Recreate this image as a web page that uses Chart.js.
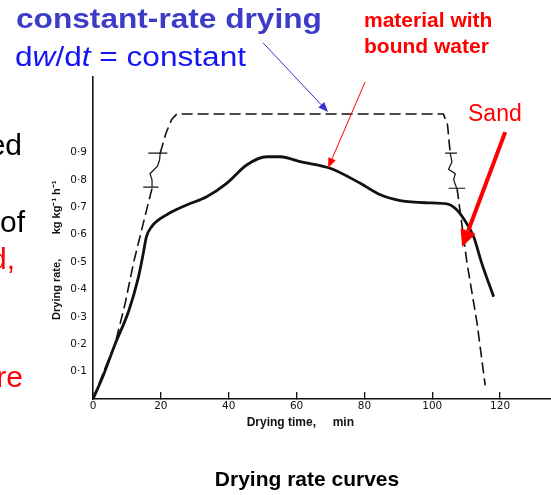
<!DOCTYPE html>
<html><head><meta charset="utf-8">
<script src="https://cdn.jsdelivr.net/npm/chart.js@4.4.1/dist/chart.umd.min.js"></script>
<style>
html,body{margin:0;padding:0;background:#fff;}
#wrap{position:relative;width:551px;height:495px;overflow:hidden;background:#fff;}
#c{position:absolute;left:0;top:0;}
.t{position:absolute;white-space:nowrap;font-family:"Liberation Sans",Arial,sans-serif;line-height:1;transform-origin:0 0;}
</style></head><body>
<div id="wrap">
<canvas id="c" width="551" height="495"></canvas>
<div class="t" style="left:16px;top:5px;font-size:28px;font-weight:bold;color:#3c3cc8;transform:scaleX(1.13);">constant-rate drying</div>
<div class="t" style="left:15px;top:44px;font-size:27px;color:#1414f5;transform:scaleX(1.17);">d<i>w</i>/d<i>t</i> = constant</div>
<div class="t" style="left:364px;top:9px;font-size:21px;font-weight:bold;color:#ff0000;">material with</div>
<div class="t" style="left:364px;top:35px;font-size:21px;font-weight:bold;color:#ff0000;">bound water</div>
<div class="t" style="left:468px;top:102px;font-size:23px;color:#ff0000;">Sand</div>
<div class="t" style="right:529px;top:130px;font-size:30px;color:#000;">ed</div>
<div class="t" style="right:526px;top:207px;font-size:30px;color:#000;">of</div>
<div class="t" style="right:536px;top:244px;font-size:30px;color:#ff0000;">d,</div>
<div class="t" style="right:528px;top:362px;font-size:30px;color:#ff0000;">re</div>
<div class="t" style="left:307px;top:468px;font-size:21px;font-weight:bold;color:#000;transform:translateX(-50%);">Drying rate curves</div>
</div>
<script>
// ---- data ----
const xTicks = [0, 20, 40, 60, 80, 100, 120];
const yTicks = [0.1, 0.2, 0.3, 0.4, 0.5, 0.6, 0.7, 0.8, 0.9];
const yTickLabels = ['0·1','0·2','0·3','0·4','0·5','0·6','0·7','0·8','0·9'];

// material with bound water (solid curve)
const boundX = [0, 3, 6.5, 10.5, 13.3, 14.8, 15.7, 17.3, 21.7, 27.6, 33.5, 39.4, 45.3, 51.2, 55.2, 61.1, 69.9, 78.8, 84.7, 90.6, 98.4, 104.3, 107.3, 109.2, 112.2, 114.6, 118.1];
const boundY = [0, 0.085, 0.2, 0.32, 0.44, 0.53, 0.59, 0.629, 0.672, 0.708, 0.738, 0.787, 0.854, 0.884, 0.884, 0.866, 0.842, 0.787, 0.745, 0.724, 0.716, 0.712, 0.690, 0.659, 0.592, 0.495, 0.373];

// constant-rate drying / sand (dashed curve), with breaks
const sandX = [0, 3.5, 6.5, 9.5, 12, 16, 17.5, 18.5, 19.8, 21.5, 23.2, 24.7, 103.3, 104.5, 105.3, 106, 107.3, 110.2, 113.2, 115.6];
const sandY = [0, 0.11, 0.2, 0.35, 0.5, 0.7, 0.773, null, 0.897, 0.97, 1.02, 1.04, 1.04, 1.0, 0.897, null, 0.769, 0.5, 0.277, 0.05];

// axis-break marks
const breakLeftX = [14.8, 19.3, null, 17.5, 17.4, 16.8, 19.0, 19.6, 19.8, null, 16.3, 21.9];
const breakLeftY = [0.773, 0.773, null, 0.773, 0.80, 0.822, 0.85, 0.87, 0.897, null, 0.897, 0.897];
const breakRightX = [103.8, 107.3, null, 105.3, 105.8, 104.8, 106.8, 106.3, 107.2, null, 104.8, 109.7];
const breakRightY = [0.897, 0.897, null, 0.897, 0.865, 0.838, 0.822, 0.80, 0.769, null, 0.769, 0.769];

// annotation arrows (tail / tip, in data units)
const arrowFrom = [[50.1, 1.30], [80.2, 1.157], [121.5, 0.974]];
const arrowTo   = [[69.3, 1.047], [69.3, 0.843], [108.8, 0.555]];

const toPts = (xs, ys) => xs.map((x, i) => ({x: x === null ? 0 : x, y: ys[i]}));

const arrowStyles = [
  {color:'#3434cc', width:1, head:10, half:4},
  {color:'#ff0000', width:1, head:10, half:4},
  {color:'#ff0000', width:4, head:17, half:8}
];

const arrowPlugin = {
  id: 'arrows',
  afterDatasetsDraw(chart) {
    const {ctx, scales: {x, y}} = chart;
    ctx.save();
    arrowFrom.forEach((f, i) => {
      const s = arrowStyles[i];
      const x1 = x.getPixelForValue(f[0]), y1 = y.getPixelForValue(f[1]);
      const x2 = x.getPixelForValue(arrowTo[i][0]), y2 = y.getPixelForValue(arrowTo[i][1]);
      const ang = Math.atan2(y2 - y1, x2 - x1);
      const bx = x2 - s.head * Math.cos(ang), by = y2 - s.head * Math.sin(ang);
      ctx.strokeStyle = s.color; ctx.fillStyle = s.color; ctx.lineWidth = s.width;
      ctx.beginPath(); ctx.moveTo(x1, y1); ctx.lineTo(bx, by); ctx.stroke();
      ctx.beginPath();
      ctx.moveTo(x2, y2);
      ctx.lineTo(bx + s.half * Math.sin(ang), by - s.half * Math.cos(ang));
      ctx.lineTo(bx - s.half * Math.sin(ang), by + s.half * Math.cos(ang));
      ctx.closePath(); ctx.fill();
    });
    ctx.restore();
  }
};

const NB = '\u00A0';
new Chart(document.getElementById('c'), {
  type: 'line',
  data: {
    datasets: [
      {data: toPts(boundX, boundY), borderColor:'#111', borderWidth:2.8, pointRadius:0, cubicInterpolationMode:'monotone', spanGaps:false},
      {data: toPts(sandX, sandY), borderColor:'#111', borderWidth:1.6, borderDash:[11,5], pointRadius:0, tension:0, spanGaps:false},
      {data: toPts(breakLeftX, breakLeftY), borderColor:'#111', borderWidth:1.2, pointRadius:0, tension:0, spanGaps:false},
      {data: toPts(breakRightX, breakRightY), borderColor:'#111', borderWidth:1.2, pointRadius:0, tension:0, spanGaps:false}
    ]
  },
  options: {
    responsive: false,
    animation: false,
    layout: {padding: {top: 77, left: 0, right: 0, bottom: 0}},
    plugins: {legend: {display: false}, tooltip: {enabled: false}},
    scales: {
      x: {
        type: 'linear', min: 0, max: 135,
        afterBuildTicks: (a) => { a.ticks = xTicks.map(v => ({value: v})); },
        afterFit: (s) => { s.height = 96; },
        grid: {display: true, drawOnChartArea: false, drawTicks: true, tickLength: -7, color: '#111', lineWidth: 1.3},
        border: {display: true, color: '#111', width: 1.6},
        ticks: {color: '#111', padding: 8, maxRotation: 0, autoSkip: false,
                font: {family: 'DejaVu Sans', size: 10.5}, callback: (v) => String(v)},
        title: {display: true, text: 'Drying time,' + NB.repeat(5) + 'min' + NB.repeat(13), color: '#111',
                font: {family: 'Liberation Sans', size: 12, weight: 'bold'}, padding: {top: 0, bottom: 65}}
      },
      y: {
        type: 'linear', min: 0, max: 1.175,
        afterBuildTicks: (a) => { a.ticks = yTicks.map(v => ({value: v})); },
        afterFit: (s) => { s.width = 93; },
        grid: {display: true, drawOnChartArea: false, drawTicks: false, color: '#111'},
        border: {display: true, color: '#111', width: 1.6},
        ticks: {color: '#111', padding: 6, autoSkip: false,
                font: {family: 'DejaVu Sans', size: 10.5}, callback: (v, i) => yTickLabels[i]},
        title: {display: true, text: 'Drying rate,' + NB.repeat(8) + 'kg kg\u207B\u00B9 h\u207B\u00B9' + NB.repeat(8), color: '#111',
                font: {family: 'Liberation Sans', size: 11, weight: 'bold'}, padding: {top: 50, bottom: 0}}
      }
    }
  },
  plugins: [arrowPlugin]
});
</script>
</body></html>
